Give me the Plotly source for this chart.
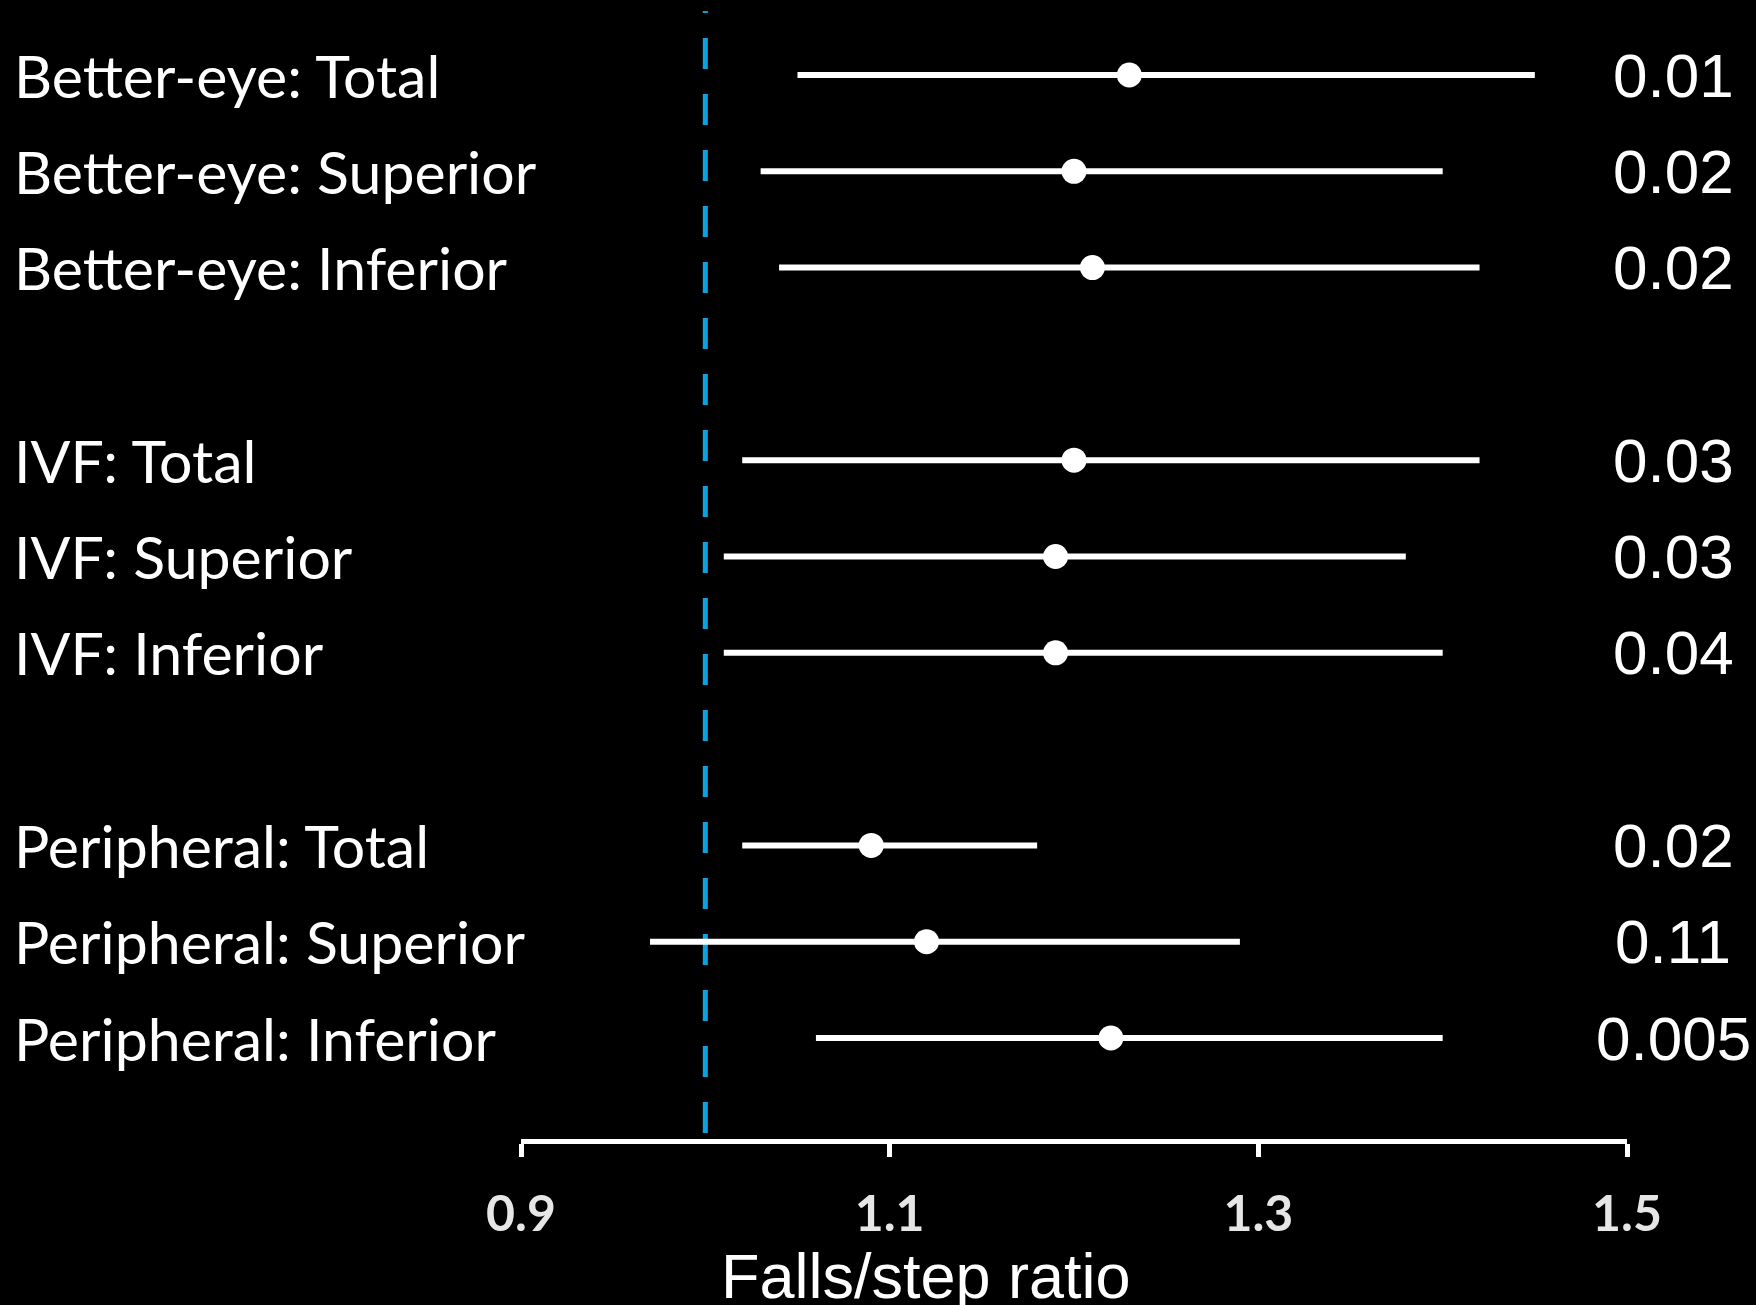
import plotly.graph_objects as go

# ---------------- data ----------------
groups = ["Better-eye", "IVF", "Peripheral"]
subsets = ["Total", "Superior", "Inferior"]
labels = [f"{g}: {s}" for g in groups for s in subsets]
estimates = [1.23, 1.20, 1.21, 1.20, 1.19, 1.19, 1.09, 1.12, 1.22]
ci_low = [1.05, 1.03, 1.04, 1.02, 1.01, 1.01, 1.02, 0.97, 1.06]
ci_high = [1.45, 1.40, 1.42, 1.42, 1.38, 1.40, 1.18, 1.29, 1.40]
p_values = ["0.01", "0.02", "0.02", "0.03", "0.03", "0.04", "0.02", "0.11", "0.005"]
x_ticks = [0.9, 1.1, 1.3, 1.5]
x_tick_labels = ["0.9", "1.1", "1.3", "1.5"]
ref_value = 1.0
x_title = "Falls/step ratio"

# row positions: groups separated by one empty row
rows = [gi * (len(subsets) + 1) + si for gi in range(len(groups)) for si in range(len(subsets))]

W, H = 1756, 1305
ML, MR, MT, MB = 521, 129, 0, 166
PW, PH = W - ML - MR, H - MT - MB


def px_to_paper_x(px):
    return (px - ML) / PW


def px_to_paper_y(py):
    return (H - MB - py) / PH


fig = go.Figure()

# CI whiskers
wx, wy = [], []
for lo, hi, r in zip(ci_low, ci_high, rows):
    wx += [lo, hi, None]
    wy += [r, r, None]
fig.add_trace(go.Scatter(x=wx, y=wy, mode="lines",
                         line=dict(color="white", width=6),
                         hoverinfo="skip", showlegend=False))

# point estimates
fig.add_trace(go.Scatter(x=estimates, y=rows, mode="markers",
                         marker=dict(color="white", size=25, line=dict(width=0)),
                         showlegend=False))

# reference dashed line
fig.add_shape(type="line", xref="x", yref="paper",
              x0=ref_value, x1=ref_value,
              y0=px_to_paper_y(1133), y1=px_to_paper_y(11),
              line=dict(color="#0aa5e0", width=5, dash="31px,25px"),
              layer="below")

annotations = []
for lab, r in zip(labels, rows):
    annotations.append(dict(text=lab, x=px_to_paper_x(12), xref="paper", y=r, yref="y",
                            xanchor="left", yanchor="middle", showarrow=False,
                            font=dict(family="Lato", size=59, color="white")))
for pv, r in zip(p_values, rows):
    annotations.append(dict(text=pv, x=px_to_paper_x(1673), xref="paper", y=r, yref="y",
                            xanchor="center", yanchor="middle", showarrow=False,
                            font=dict(family="Liberation Sans", size=62, color="white")))
annotations.append(dict(text=x_title, x=px_to_paper_x(926), xref="paper",
                        y=px_to_paper_y(1276), yref="paper",
                        xanchor="center", yanchor="middle", showarrow=False,
                        font=dict(family="Liberation Sans", size=63, color="white")))

row_top = (0 - 75) / 96.3
row_bot = (H - MB - 75) / 96.3

fig.update_layout(
    width=W, height=H,
    margin=dict(l=ML, r=MR, t=MT, b=MB, pad=0),
    paper_bgcolor="black", plot_bgcolor="black",
    showlegend=False,
    annotations=annotations,
    xaxis=dict(range=[x_ticks[0], x_ticks[-1]], tickvals=x_ticks, ticktext=x_tick_labels,
               showgrid=False, zeroline=False, showline=True, linecolor="white", linewidth=5,
               ticks="outside", ticklen=13, tickwidth=5, tickcolor="white",
               ticklabelstandoff=14,
               tickfont=dict(family="Lato", size=50, color="#e6e6e6", weight="bold")),
    yaxis=dict(range=[row_bot, row_top], visible=False, showgrid=False, zeroline=False),
)

fig.write_html("out.html", config={"displayModeBar": False},
               post_script="document.body.style.margin='0';document.body.style.background='black';document.body.style.overflow='hidden';")
